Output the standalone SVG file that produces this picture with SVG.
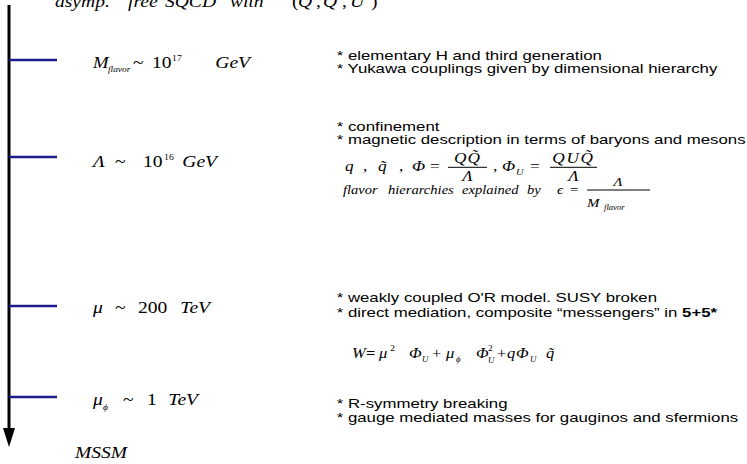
<svg xmlns="http://www.w3.org/2000/svg" width="747" height="464" viewBox="0 0 747 464">
<style>
.s{font-family:"Liberation Sans",Arial,sans-serif;font-size:12.3px;fill:#000}
.i{font-family:"Liberation Serif","Times New Roman",serif;font-style:italic;fill:#000}
.r{font-family:"Liberation Serif","Times New Roman",serif;fill:#000}
.L{font-size:17px}
.E{font-size:15px}
.sub{font-size:8.5px}
.tick{stroke:#1c1c8c;stroke-width:2.6}
.bar{stroke:#000;stroke-width:1}
.end{text-anchor:end}
.mid{text-anchor:middle}
</style>
<defs>
<marker id="arr" markerUnits="userSpaceOnUse" markerWidth="19" markerHeight="12" viewBox="0 0 19 12" refX="0" refY="6" orient="auto">
<path d="M0,0 L19,6 L0,12 z" fill="#000"/>
</marker>
</defs>
<g id="connectors">
<line x1="9" y1="5" x2="9" y2="428" stroke="#000" stroke-width="3" marker-end="url(#arr)"/>
</g>
<g id="top-theory">
<text class="i L" transform="translate(55 7) scale(1.15 1)">asymp.</text>
<text class="i L" transform="translate(128 7) scale(1.15 1)">free</text>
<text class="i L" transform="translate(165 7) scale(1.15 1)">SQCD</text>
<text class="i L" transform="translate(230 7) scale(1.15 1)">with</text>
<text class="r L" transform="translate(292 7) scale(1.15 1)">(</text>
<text class="i L" transform="translate(298 7) scale(1.15 1)">Q</text>
<text class="r L" transform="translate(316 7) scale(1.15 1)">,</text>
<text class="i L" transform="translate(323 7) scale(1.15 1)">Q̃</text>
<text class="r L" transform="translate(342 7) scale(1.15 1)">,</text>
<text class="i L" transform="translate(350 7) scale(1.15 1)">U</text>
<text class="r L" transform="translate(371 7) scale(1.15 1)">)</text>
</g>
<g id="level-mflavor">
<line class="tick" x1="9" y1="60" x2="57" y2="60"/>
<text class="i L" transform="translate(93 68) scale(1.1 1)">M</text>
<text class="i sub" transform="translate(108 72) scale(1.1 1)">flavor</text>
<text class="r L" transform="translate(133 68) scale(1.15 1)">~</text>
<text class="r L" transform="translate(152 68) scale(1.15 1)">10</text>
<text class="r sub" transform="translate(172 61) scale(1.15 1)">17</text>
<text class="i L end" transform="translate(250 68) scale(1.15 1)">GeV</text>
<text class="s" transform="translate(336.7 59.5) scale(1.366 1)">* elementary H and third generation</text>
<text class="s" transform="translate(336.7 72.5) scale(1.366 1)">* Yukawa couplings given by dimensional hierarchy</text>
</g>
<g id="level-lambda">
<line class="tick" x1="9" y1="157" x2="57" y2="157"/>
<text class="i L" transform="translate(93 167) scale(1.15 1)">Λ</text>
<text class="r L" transform="translate(115 167) scale(1.15 1)">~</text>
<text class="r L" transform="translate(143 167) scale(1.15 1)">10</text>
<text class="r sub" transform="translate(164 160) scale(1.15 1)">16</text>
<text class="i L end" transform="translate(217 167) scale(1.15 1)">GeV</text>
<text class="s" transform="translate(336.7 130.5) scale(1.366 1)">* confinement</text>
<text class="s" transform="translate(336.7 143.5) scale(1.366 1)">* magnetic description in terms of baryons and mesons</text>
<text class="i E" transform="translate(345 171) scale(1.15 1)">q</text>
<text class="r E" transform="translate(363 171) scale(1.15 1)">,</text>
<text class="i E" transform="translate(378 171) scale(1.15 1)">q̃</text>
<text class="r E" transform="translate(399 171) scale(1.15 1)">,</text>
<text class="i E" transform="translate(412 171) scale(1.15 1)">Φ</text>
<text class="r E" transform="translate(430 171) scale(1.15 1)">=</text>
<line class="bar" x1="448" y1="167.3" x2="487" y2="167.3"/>
<text class="i E mid" letter-spacing="1" transform="translate(467.5 162.5) scale(1.15 1)">QQ̃</text>
<text class="i E mid" transform="translate(467.5 181) scale(1.15 1)">Λ</text>
<text class="r E" transform="translate(493 171) scale(1.15 1)">,</text>
<text class="i E" transform="translate(502 171) scale(1.15 1)">Φ</text>
<text class="i" font-size="9" transform="translate(516 175) scale(1.15 1)">U</text>
<text class="r E" transform="translate(530 171) scale(1.15 1)">=</text>
<line class="bar" x1="550" y1="167.3" x2="597" y2="167.3"/>
<text class="i E mid" letter-spacing="1.5" transform="translate(573.5 162.5) scale(1.15 1)">QUQ̃</text>
<text class="i E mid" transform="translate(573.5 181) scale(1.15 1)">Λ</text>
<text class="i" font-size="13" transform="translate(343 193.5) scale(1.12 1)">flavor</text>
<text class="i" font-size="13" transform="translate(388 193.5) scale(1.12 1)">hierarchies</text>
<text class="i" font-size="13" transform="translate(462 193.5) scale(1.12 1)">explained</text>
<text class="i" font-size="13" transform="translate(527 193.5) scale(1.12 1)">by</text>
<text class="i" font-size="13" transform="translate(557 193.5) scale(1.15 1)">ϵ</text>
<text class="r" font-size="13" transform="translate(570 194) scale(1.15 1)">=</text>
<line class="bar" x1="587" y1="190" x2="650" y2="190"/>
<text class="i mid" font-size="13" transform="translate(618 186) scale(1.15 1)">Λ</text>
<text class="i" font-size="13" transform="translate(587 206.5) scale(1.15 1)">M</text>
<text class="i" font-size="7.5" transform="translate(604 210) scale(1.15 1)">flavor</text>
</g>
<g id="level-mu">
<line class="tick" x1="9" y1="306" x2="57" y2="306"/>
<text class="i L" transform="translate(93 313) scale(1.15 1)">μ</text>
<text class="r L" transform="translate(115 313) scale(1.15 1)">~</text>
<text class="r L" transform="translate(138 313) scale(1.15 1)">200</text>
<text class="i L end" transform="translate(210 313) scale(1.15 1)">TeV</text>
<text class="s" transform="translate(336.7 302.3) scale(1.366 1)">* weakly coupled O'R model. SUSY broken</text>
<text class="s" transform="translate(336.7 316.5) scale(1.366 1)">* direct mediation, composite “messengers” in <tspan font-weight="bold">5+5*</tspan></text>
<text class="i E" transform="translate(352 358) scale(1.1 1)">W</text>
<text class="r E" font-weight="bold" transform="translate(366 358) scale(1.1 1)">=</text>
<text class="i E" transform="translate(379 358) scale(1.1 1)">μ</text>
<text class="r" font-size="9" transform="translate(390 351) scale(1.1 1)">2</text>
<text class="i E" transform="translate(409 358) scale(1.1 1)">Φ</text>
<text class="i" font-size="8" transform="translate(422 362) scale(1.1 1)">U</text>
<text class="r E" transform="translate(432 358) scale(1.1 1)">+</text>
<text class="i E" transform="translate(446 358) scale(1.1 1)">μ</text>
<text class="i" font-size="8" transform="translate(456 362) scale(1.1 1)">ϕ</text>
<text class="i E" transform="translate(476 358) scale(1.1 1)">Φ</text>
<text class="r" font-size="8.5" transform="translate(488 351) scale(1.1 1)">2</text>
<text class="i" font-size="8" transform="translate(488 363) scale(1.1 1)">U</text>
<text class="r E" transform="translate(497 358) scale(1.1 1)">+</text>
<text class="i E" transform="translate(507 358) scale(1.1 1)">q</text>
<text class="i E" transform="translate(516 358) scale(1.1 1)">Φ</text>
<text class="i" font-size="8" transform="translate(530 362) scale(1.1 1)">U</text>
<text class="i E" transform="translate(546 358) scale(1.1 1)">q̃</text>
</g>
<g id="level-muphi">
<line class="tick" x1="9" y1="397" x2="57" y2="397"/>
<text class="i L" transform="translate(93 405) scale(1.15 1)">μ</text>
<text class="i sub" transform="translate(103 410) scale(1.15 1)">ϕ</text>
<text class="r L" transform="translate(123 405) scale(1.15 1)">~</text>
<text class="r L" transform="translate(147 405) scale(1.15 1)">1</text>
<text class="i L end" transform="translate(198 405) scale(1.15 1)">TeV</text>
<text class="s" transform="translate(336.7 407.7) scale(1.366 1)">* R-symmetry breaking</text>
<text class="s" transform="translate(336.7 421.7) scale(1.366 1)">* gauge mediated masses for gauginos and sfermions</text>
</g>
<g id="bottom-mssm">
<text class="i L" transform="translate(75 458) scale(1.15 1)">MSSM</text>
</g>
</svg>
